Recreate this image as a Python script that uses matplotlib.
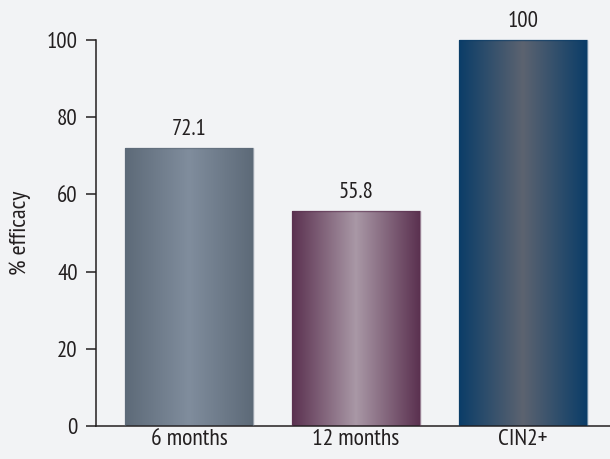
import numpy as np
import matplotlib
matplotlib.use("Agg")
import matplotlib.pyplot as plt
from matplotlib.colors import LinearSegmentedColormap

# data
categories = ["6 months", "12 months", "CIN2+"]
efficacy = [72.1, 55.8, 100]
labels = ["72.1", "55.8", "100"]
yticks = [0, 20, 40, 60, 80, 100]

# gradient colours per bar: edge, centre
grad_colors = [
    ("#5d6a78", "#808d9d"),
    ("#5b3150", "#a998a6"),
    ("#0b3d68", "#5c6370"),
]

plt.rcParams["font.family"] = ["PT Sans Narrow", "DejaVu Sans"]
text_color = "#231f20"

fig = plt.figure(figsize=(6.10, 4.59), dpi=100)
fig.patch.set_facecolor("#f2f3f5")
ax = fig.add_axes([96 / 610, 33 / 459, 1 - 96 / 610, 1 - 33 / 459])
ax.set_facecolor("none")

x = np.arange(len(categories))
width = 0.766
bars = ax.bar(x, efficacy, width=width, color="none", edgecolor="none", zorder=2)

for bar, (c_edge, c_mid) in zip(bars, grad_colors):
    cmap = LinearSegmentedColormap.from_list("g", [c_edge, c_mid, c_edge])
    grad = np.linspace(0, 1, 256).reshape(1, -1)
    x0 = bar.get_x()
    im = ax.imshow(grad, cmap=cmap, aspect="auto", zorder=2,
                   extent=[x0, x0 + bar.get_width(), 0, bar.get_height()])
    im.set_clip_path(bar)
    ax.add_patch(plt.Rectangle((x0, 0), bar.get_width(), bar.get_height(),
                               fill=False, edgecolor=c_edge, lw=1.0, alpha=0.6, zorder=3))

for xi, v, lab in zip(x, efficacy, labels):
    ax.text(xi, v + 2.0, lab, ha="center", va="bottom", fontsize=16.5, color=text_color)

ymax = 110.4
ax.set_xlim(-0.557, 2.521)
ax.set_ylim(0, ymax)
ax.set_yticks(yticks)
ax.set_xticks(x)
ax.set_xticklabels(categories, fontsize=17, color=text_color)
ax.tick_params(axis="y", length=7.2, width=1.1, labelsize=16.5, colors=text_color, pad=6)
ax.tick_params(axis="x", length=0, pad=2)
ax.spines["top"].set_visible(False)
ax.spines["right"].set_visible(False)
ax.spines["left"].set_bounds(0, 100)
for s in ("left", "bottom"):
    ax.spines[s].set_linewidth(1.1)
    ax.spines[s].set_color(text_color)
ax.set_ylabel("% efficacy", fontsize=17.5, color=text_color)
ax.yaxis.set_label_coords(-0.126, 50 / ymax)

fig.savefig("out.png", dpi=100, facecolor=fig.get_facecolor())
